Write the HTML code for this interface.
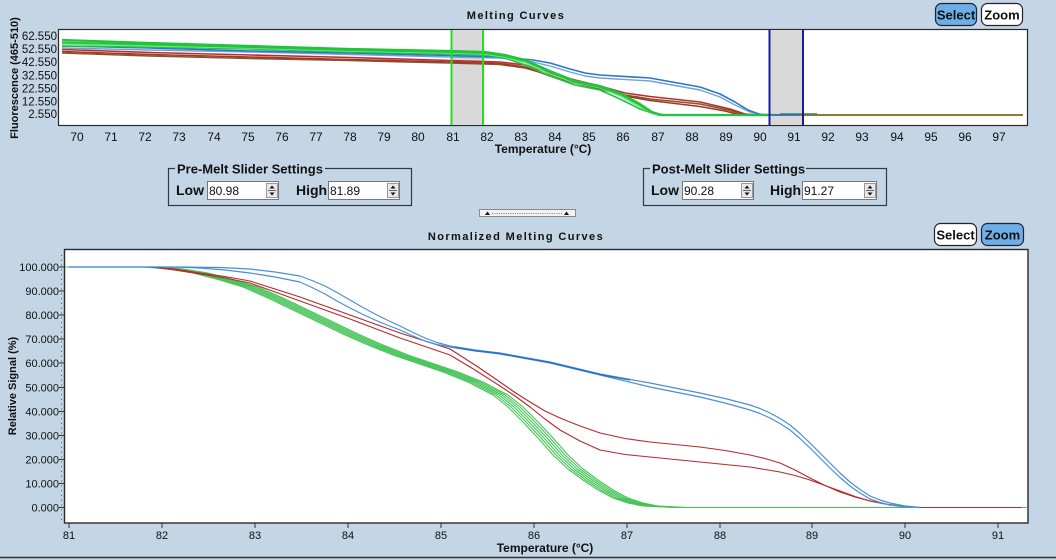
<!DOCTYPE html>
<html><head><meta charset="utf-8"><style>
html,body{margin:0;padding:0;background:#c4d5e6;}
svg{display:block;}
text{font-family:"Liberation Sans",sans-serif;fill:#111;}
</style></head><body>
<svg width="1056" height="560" viewBox="0 0 1056 560" xmlns="http://www.w3.org/2000/svg">
<defs>
<clipPath id="ct"><rect x="59" y="30" width="968" height="95"/></clipPath>
<clipPath id="cl"><rect x="65" y="250" width="962" height="272"/></clipPath>
</defs>
<rect width="1056" height="560" fill="#c4d5e6"/>

<!-- ===== TOP PLOT ===== -->
<text x="516" y="19" font-size="11" font-weight="bold" text-anchor="middle" letter-spacing="1.4">Melting Curves</text>
<rect x="935.5" y="3.5" width="41" height="22" rx="6" fill="#6eaee6" stroke="#223" stroke-width="1.2"/>
<text x="956" y="19.5" font-size="13" font-weight="bold" text-anchor="middle">Select</text>
<rect x="981.5" y="3.5" width="41" height="22" rx="6" fill="#fff" stroke="#223" stroke-width="1.2"/>
<text x="1002" y="19.5" font-size="13" font-weight="bold" text-anchor="middle">Zoom</text>

<rect x="58.5" y="29.5" width="969" height="96" fill="#fff" stroke="#2a2a2a" stroke-width="1.2"/>
<g clip-path="url(#ct)">
<rect x="452" y="30" width="31" height="95" fill="#d9d9d9"/>
<rect x="770" y="30" width="33" height="95" fill="#d9d9d9"/>
<g fill="none" stroke-width="1.6" stroke-linejoin="round">
<path d="M660,115 L1023,115" stroke="#8a7d2e" stroke-width="2"/>
<path d="M780,114 L817,114" stroke="#3f7a6a" stroke-width="1.5"/>
<path d="M62,53 L150,56 L250,58.5 L350,60.5 L450,63 L500,64.5 L525,68 L550,75 L575,82 L600,88 L625,95 L650,99 L700,104 L728,110 L745,115" stroke="#7a5a2a"/>
<path d="M62,51.5 L150,54.5 L250,57 L350,59.5 L450,62 L500,63.5 L525,67 L550,76 L575,83 L600,89 L625,96 L650,100.5 L700,106.5 L725,111 L740,115" stroke="#a8332b"/>
<path d="M62,49.5 L150,52.5 L250,55 L350,57.5 L450,60.5 L500,62 L525,65 L550,73 L575,80 L600,86 L625,93 L650,96.5 L700,102 L730,109 L745,114 L760,115" stroke="#c02a2a"/>
<path d="M62,48 L150,50 L250,52 L350,54.5 L450,57 L500,58 L533,62 L550,66 L570,72 L585,76 L600,78 L650,81 L700,90 L720,97 L735,105 L750,112 L765,115" stroke="#6fa2da" stroke-width="1.4"/>
<path d="M62,46 L150,48 L250,51 L350,53 L450,55.5 L500,57 L533,60 L550,63 L570,69 L585,73 L600,75 L650,78 L700,87 L720,94 L735,102 L748,110 L760,114.5 L800,115" stroke="#2d74cc"/>
<path d="M62,46 L150,47 L250,49 L350,52 L450,54 L485,55 L505,58 L525,65 L550,76 L575,85 L600,90 L620,99 L640,109 L658,115 L760,115" stroke="#1fc43a"/>
<path d="M62,44 L150,46 L250,48 L350,51 L450,53 L485,54 L505,57 L525,63 L550,74 L575,83 L600,88 L620,96 L640,107 L655,114 L665,115" stroke="#7fe08f" stroke-width="1.4"/>
<path d="M62,42.5 L150,44.5 L250,47 L350,50 L450,52 L485,53 L505,56 L525,61 L550,72 L575,82 L600,87 L620,94 L640,105 L653,113 L663,115" stroke="#22c83c" stroke-width="2"/>
<path d="M62,40 L150,43 L250,46 L350,49 L450,51 L485,52 L505,55 L525,60 L550,71 L575,81 L600,86 L620,93 L640,104 L652,112 L662,115 L770,115" stroke="#1fc43a" stroke-width="2.2"/>
</g>
<path d="M451.5,30 V125 M483,30 V125" stroke="#22dd22" stroke-width="2"/>
<path d="M769.5,30 V125 M803,30 V125" stroke="#1a1aa0" stroke-width="2"/>
</g>
<g font-size="11.5" text-anchor="end">
<text x="57" y="40">62.550</text>
<text x="57" y="53">52.550</text>
<text x="57" y="66">42.550</text>
<text x="57" y="79.5">32.550</text>
<text x="57" y="92.5">22.550</text>
<text x="57" y="105.5">12.550</text>
<text x="57" y="118">2.550</text>
</g>
<g font-size="12" text-anchor="middle">
<text x="77" y="141">70</text><text x="111" y="141">71</text><text x="145" y="141">72</text><text x="179" y="141">73</text><text x="214" y="141">74</text><text x="248" y="141">75</text><text x="282" y="141">76</text><text x="316" y="141">77</text><text x="350" y="141">78</text><text x="384" y="141">79</text><text x="418" y="141">80</text><text x="453" y="141">81</text><text x="487" y="141">82</text><text x="521" y="141">83</text><text x="555" y="141">84</text><text x="589" y="141">85</text><text x="623" y="141">86</text><text x="658" y="141">87</text><text x="692" y="141">88</text><text x="726" y="141">89</text><text x="760" y="141">90</text><text x="794" y="141">91</text><text x="828" y="141">92</text><text x="862" y="141">93</text><text x="897" y="141">94</text><text x="931" y="141">95</text><text x="965" y="141">96</text><text x="999" y="141">97</text>
</g>
<text x="543" y="153" font-size="12" font-weight="bold" text-anchor="middle">Temperature (°C)</text>
<text transform="translate(18,78) rotate(-90)" font-size="11" font-weight="bold" text-anchor="middle">Fluorescence (465-510)</text>

<!-- ===== SLIDER SETTINGS ===== -->
<rect x="168.5" y="168.5" width="243" height="37" fill="none" stroke="#2f3a48" stroke-width="1.2"/>
<rect x="175" y="162" width="150" height="13" fill="#c4d5e6"/>
<text x="177" y="173.5" font-size="13" font-weight="bold">Pre-Melt Slider Settings</text>
<text x="176" y="195" font-size="14" font-weight="bold">Low</text>
<rect x="207.5" y="181.5" width="71" height="18" fill="#fff" stroke="#777"/>
<text x="209" y="195" font-size="12">80.98</text>
<rect x="266.5" y="183.5" width="11" height="14" fill="#e8e8e8" stroke="#999"/>
<path d="M268,190.5 H276" stroke="#666"/>
<path d="M269.5,188.5 L272,185.5 L274.5,188.5Z M269.5,192.5 L272,195.5 L274.5,192.5Z" fill="#111"/>
<text x="296" y="195" font-size="14" font-weight="bold">High</text>
<rect x="328.5" y="181.5" width="71" height="18" fill="#fff" stroke="#777"/>
<text x="330" y="195" font-size="12">81.89</text>
<rect x="387.5" y="183.5" width="11" height="14" fill="#e8e8e8" stroke="#999"/>
<path d="M389,190.5 H397" stroke="#666"/>
<path d="M390.5,188.5 L393,185.5 L395.5,188.5Z M390.5,192.5 L393,195.5 L395.5,192.5Z" fill="#111"/>

<rect x="643.5" y="168.5" width="243" height="37" fill="none" stroke="#2f3a48" stroke-width="1.2"/>
<rect x="650" y="162" width="156" height="13" fill="#c4d5e6"/>
<text x="652" y="173.5" font-size="13" font-weight="bold">Post-Melt Slider Settings</text>
<text x="651" y="195" font-size="14" font-weight="bold">Low</text>
<rect x="682.5" y="181.5" width="71" height="18" fill="#fff" stroke="#777"/>
<text x="684" y="195" font-size="12">90.28</text>
<rect x="741.5" y="183.5" width="11" height="14" fill="#e8e8e8" stroke="#999"/>
<path d="M743,190.5 H751" stroke="#666"/>
<path d="M744.5,188.5 L747,185.5 L749.5,188.5Z M744.5,192.5 L747,195.5 L749.5,192.5Z" fill="#111"/>
<text x="770" y="195" font-size="14" font-weight="bold">High</text>
<rect x="802.5" y="181.5" width="74" height="18" fill="#fff" stroke="#777"/>
<text x="804" y="195" font-size="12">91.27</text>
<rect x="864.5" y="183.5" width="11" height="14" fill="#e8e8e8" stroke="#999"/>
<path d="M866,190.5 H874" stroke="#666"/>
<path d="M867.5,188.5 L870,185.5 L872.5,188.5Z M867.5,192.5 L870,195.5 L872.5,192.5Z" fill="#111"/>

<!-- splitter -->
<rect x="479.5" y="209.5" width="96" height="7" fill="#f2f2f2" stroke="#8a8a8a"/>
<path d="M492,213.5 H562" stroke="#777" stroke-dasharray="1,1.3"/>
<path d="M485,215 L487.5,211.5 L490,215Z M564,215 L566.5,211.5 L569,215Z" fill="#111"/>

<!-- ===== LOWER PLOT ===== -->
<text x="516" y="240" font-size="11" font-weight="bold" text-anchor="middle" letter-spacing="1.4">Normalized Melting Curves</text>
<rect x="934.5" y="223.5" width="42" height="22" rx="6" fill="#fff" stroke="#223" stroke-width="1.2"/>
<text x="955.5" y="239.5" font-size="13" font-weight="bold" text-anchor="middle">Select</text>
<rect x="981.5" y="223.5" width="42" height="22" rx="6" fill="#6eaee6" stroke="#223" stroke-width="1.2"/>
<text x="1002.5" y="239.5" font-size="13" font-weight="bold" text-anchor="middle">Zoom</text>

<rect x="64.5" y="249.5" width="963.5" height="273.5" fill="#fff" stroke="#2a2a2a" stroke-width="1.4"/>
<g clip-path="url(#cl)" fill="none" stroke-linejoin="round">
<g stroke="#44c456" stroke-width="1.1">
<path d="M69,267 L150,267 L175,269 L200,273 L225,279.5 L250,287 L275,298 L300,310 L325,322 L350,334 L375,345 L400,355 L425,363.5 L450,372 L475,382 L500,395 L515,407 L530,422 L545,438 L560,455 L575,469 L590,480 L605,490 L620,498 L635,503 L650,506 L680,507.5 L1022,507.5" transform="translate(-7,0)"/>
<path d="M69,267 L150,267 L175,269 L200,273 L225,279.5 L250,287 L275,298 L300,310 L325,322 L350,334 L375,345 L400,355 L425,363.5 L450,372 L475,382 L500,395 L515,407 L530,422 L545,438 L560,455 L575,469 L590,480 L605,490 L620,498 L635,503 L650,506 L680,507.5 L1022,507.5" transform="translate(-4,0)"/>
<path d="M69,267 L150,267 L175,269 L200,273 L225,279.5 L250,287 L275,298 L300,310 L325,322 L350,334 L375,345 L400,355 L425,363.5 L450,372 L475,382 L500,395 L515,407 L530,422 L545,438 L560,455 L575,469 L590,480 L605,490 L620,498 L635,503 L650,506 L680,507.5 L1022,507.5" transform="translate(-1,0)"/>
<path d="M69,267 L150,267 L175,269 L200,273 L225,279.5 L250,287 L275,298 L300,310 L325,322 L350,334 L375,345 L400,355 L425,363.5 L450,372 L475,382 L500,395 L515,407 L530,422 L545,438 L560,455 L575,469 L590,480 L605,490 L620,498 L635,503 L650,506 L680,507.5 L1022,507.5" transform="translate(2,0)"/>
<path d="M69,267 L150,267 L175,269 L200,273 L225,279.5 L250,287 L275,298 L300,310 L325,322 L350,334 L375,345 L400,355 L425,363.5 L450,372 L475,382 L500,395 L515,407 L530,422 L545,438 L560,455 L575,469 L590,480 L605,490 L620,498 L635,503 L650,506 L680,507.5 L1022,507.5" transform="translate(5,0)"/>
<path d="M69,267 L150,267 L175,269 L200,273 L225,279.5 L250,287 L275,298 L300,310 L325,322 L350,334 L375,345 L400,355 L425,363.5 L450,372 L475,382 L500,395 L515,407 L530,422 L545,438 L560,455 L575,469 L590,480 L605,490 L620,498 L635,503 L650,506 L680,507.5 L1022,507.5" transform="translate(8,0)"/>
</g>
<g stroke="#b5292b" stroke-width="1.1">
<path d="M69,267 L150,267 L175,269 L200,273 L225,276.5 L250,281 L275,289 L300,297 L325,306 L350,315 L375,324 L400,333 L425,341 L450,349 L475,365 L500,382 L515,392.5 L530,402 L545,411 L560,418 L580,426 L600,433 L625,438.5 L650,442 L675,444.5 L700,447 L725,450.5 L750,455 L765,458.5 L780,463 L795,470 L810,478 L825,485.5 L840,492 L855,497 L870,501 L885,504 L900,506 L920,507.5 L1022,507.5"/>
<path d="M69,267 L150,267 L175,270 L200,274 L225,278 L250,283 L275,292 L300,301 L325,310 L350,319 L375,328.5 L400,338 L425,346.5 L450,355 L475,370 L500,386 L515,396 L530,407 L545,419 L560,430 L580,441 L600,450 L625,454.5 L650,457 L675,459.5 L700,462 L725,464.5 L750,467 L765,469.5 L780,472 L795,475.5 L810,480 L825,485.5 L840,491 L855,496.5 L870,501 L885,504 L900,506 L920,507.5"/>
</g>
<g stroke="#4a8fd3" stroke-width="1.2">
<path d="M69,267 L180,267 L220,267.5 L250,269 L275,272 L300,276 L312,280.5 L325,286 L337,292.5 L350,300 L362,307 L375,314 L387,320 L400,326 L412,332 L425,338 L437,342.5 L450,346 L475,350 L500,353 L550,362 L600,374 L650,383 L700,393 L725,398.5 L750,405 L760,408.5 L770,413 L780,418.5 L790,425 L800,433.5 L810,443 L820,453 L830,463 L840,473 L850,482 L860,489.5 L870,496 L880,500 L890,503 L905,506 L920,507.5"/>
<path d="M69,267 L160,267 L180,267.3 L200,268 L225,270 L250,273 L275,277 L300,282 L312,287.5 L325,294 L337,301 L350,308 L362,314 L375,320 L387,325 L400,330 L412,335.5 L425,341 L437,344.5 L450,347 L475,351 L500,354 L550,363 L600,375 L650,387 L700,397 L725,403 L750,410 L760,413.5 L770,418 L780,423.5 L790,430 L800,438.5 L810,448 L820,458 L830,468 L840,477.5 L850,486 L860,493 L870,499 L880,502.5 L890,505 L905,507 L920,507.5"/>
</g>
<path d="M455,347.5 L475,350.5 L500,353.5 L550,362.5 L600,374.5 L630,380" stroke="#2a6fc6" stroke-width="1.3"/>
</g>
<!-- ticks -->
<g stroke="#333" stroke-width="1">
<path d="M59,267H64 M59,291H64 M59,315H64 M59,339H64 M59,363H64 M59,387.5H64 M59,411.5H64 M59,435.5H64 M59,459.5H64 M59,483.5H64 M59,507.5H64"/>
<path d="M69,523V528 M162,523V528 M255,523V528 M348,523V528 M441,523V528 M534,523V528 M627,523V528 M720,523V528 M812,523V528 M905,523V528 M998,523V528"/>
</g>
<path d="M61.5,255 V520" stroke="#555" stroke-dasharray="1,3.8" stroke-width="1"/>
<g font-size="11" text-anchor="end">
<text x="59" y="271">100.000</text>
<text x="59" y="295">90.000</text>
<text x="59" y="319">80.000</text>
<text x="59" y="343">70.000</text>
<text x="59" y="367">60.000</text>
<text x="59" y="391.5">50.000</text>
<text x="59" y="415.5">40.000</text>
<text x="59" y="439.5">30.000</text>
<text x="59" y="463.5">20.000</text>
<text x="59" y="487.5">10.000</text>
<text x="59" y="511.5">0.000</text>
</g>
<g font-size="11" text-anchor="middle">
<text x="69" y="539">81</text><text x="162" y="539">82</text><text x="255" y="539">83</text><text x="348" y="539">84</text><text x="441" y="539">85</text><text x="534" y="539">86</text><text x="627" y="539">87</text><text x="720" y="539">88</text><text x="812" y="539">89</text><text x="905" y="539">90</text><text x="998" y="539">91</text>
</g>
<text x="545" y="552" font-size="12" font-weight="bold" text-anchor="middle">Temperature (°C)</text>
<text transform="translate(16,386) rotate(-90)" font-size="11" font-weight="bold" text-anchor="middle">Relative Signal (%)</text>

<path d="M0,557.5 H1056" stroke="#333" stroke-width="1.5"/>
</svg>
</body></html>
